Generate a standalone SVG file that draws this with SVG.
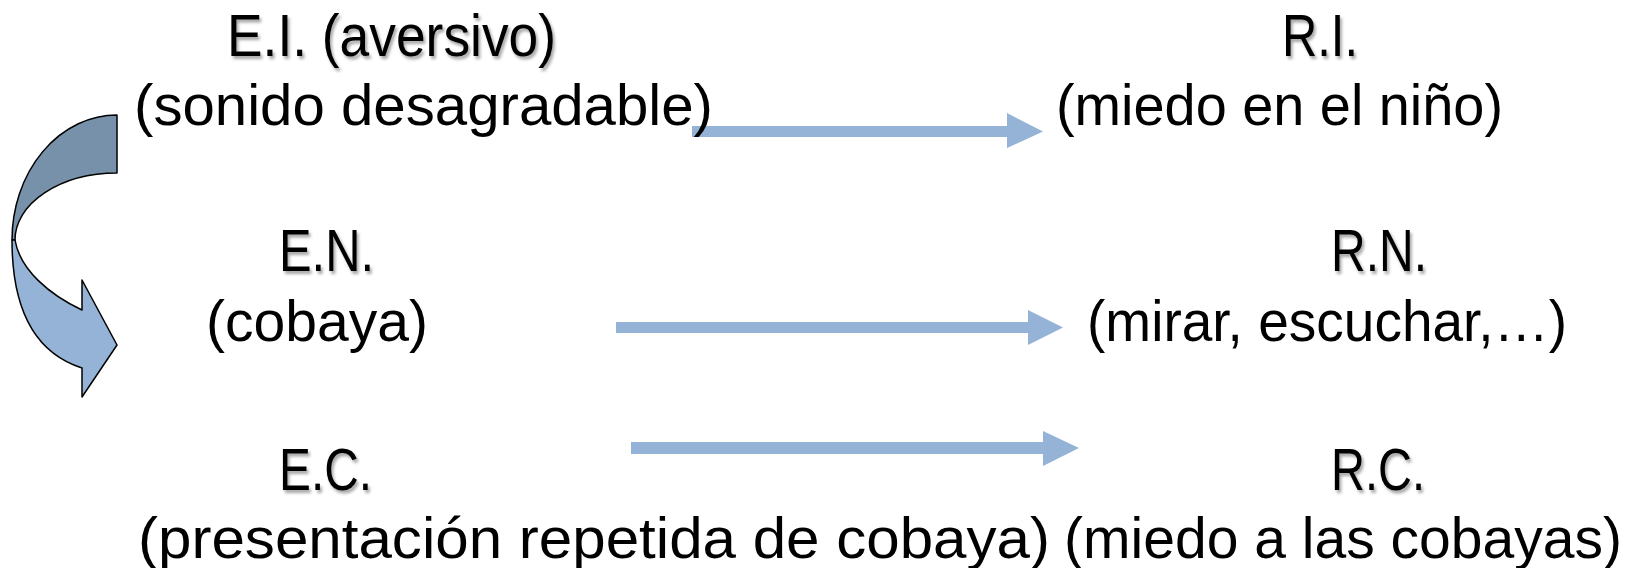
<svg xmlns="http://www.w3.org/2000/svg" width="1631" height="568" viewBox="0 0 1631 568">
<style>
text{font-family:"Liberation Sans","DejaVu Sans",sans-serif;fill:#000;font-size:58px}
.h{filter:url(#sh);font-size:60px}
.arr{fill:#95B3D7}
.curve{stroke:#000;stroke-width:1.5;stroke-linejoin:round}
</style>
<defs>
<filter id="sh" x="-10%" y="-20%" width="130%" height="150%">
<feDropShadow dx="2" dy="3" stdDeviation="1.5" flood-color="#000" flood-opacity="0.35"/>
</filter>
</defs>
<rect width="1631" height="568" fill="#fff"/>
<g id="connectors">
<polygon class="arr" points="692,126 1007,126 1007,113 1043,131.5 1007,148 1007,137 692,137"/>
<polygon class="arr" points="616,322 1028,322 1028,310 1063,327.5 1028,345 1028,333 616,333"/>
<polygon class="arr" points="631,442 1043,442 1043,431 1079,448 1043,466 1043,454 631,454"/>
<g id="curved-arrow">
<path class="curve" fill="#7691A9" d="M117,115 A105,125 0 0 0 12,240 L15,240 A102,67 0 0 1 117,173 Z"/>
<path class="curve" fill="#95B3D7" d="M12,240 C12,305 32,352 82,368 L82,397 L117,345 L82,280 L82,310 C50,295 20,270 15,240 Z"/>
</g>
</g>
<g id="EI"><text class="h" x="227" y="56" textLength="329" lengthAdjust="spacingAndGlyphs">E.I. (aversivo)</text>
<text x="134" y="125" textLength="579" lengthAdjust="spacingAndGlyphs">(sonido desagradable)</text></g>
<g id="RI"><text class="h" x="1282" y="56" textLength="76" lengthAdjust="spacingAndGlyphs">R.I.</text>
<text x="1056" y="125" textLength="447" lengthAdjust="spacingAndGlyphs">(miedo en el niño)</text></g>
<g id="EN"><text class="h" x="279" y="271" textLength="95" lengthAdjust="spacingAndGlyphs">E.N.</text>
<text x="206" y="341" textLength="222" lengthAdjust="spacingAndGlyphs">(cobaya)</text></g>
<g id="RN"><text class="h" x="1331" y="271" textLength="96" lengthAdjust="spacingAndGlyphs">R.N.</text>
<text x="1087" y="341" textLength="480" lengthAdjust="spacingAndGlyphs">(mirar, escuchar,…)</text></g>
<g id="EC"><text class="h" x="279" y="490" textLength="93" lengthAdjust="spacingAndGlyphs">E.C.</text>
<text x="138" y="558" textLength="912" lengthAdjust="spacingAndGlyphs">(presentación repetida de cobaya)</text></g>
<g id="RC"><text class="h" x="1331" y="490" textLength="94" lengthAdjust="spacingAndGlyphs">R.C.</text>
<text x="1064" y="558" textLength="558" lengthAdjust="spacingAndGlyphs">(miedo a las cobayas)</text></g>
</svg>
